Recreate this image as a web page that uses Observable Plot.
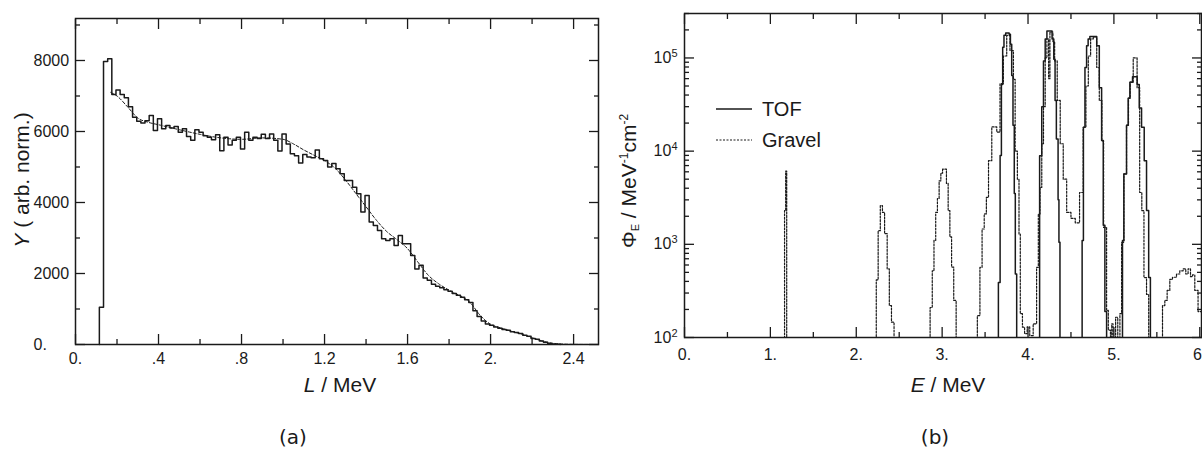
<!DOCTYPE html>
<html><head><meta charset="utf-8">
<script src="https://cdn.jsdelivr.net/npm/d3@7"></script>
<script src="https://cdn.jsdelivr.net/npm/@observablehq/plot@0.6"></script>
<style>
body{margin:0;background:#fff;}
#wrap{position:relative;width:1202px;height:457px;overflow:hidden;font-family:"Liberation Sans",Arial,sans-serif;color:#1a1a1a;background:#fff;}
.abs{position:absolute;white-space:nowrap;line-height:1;}
#chartA{position:absolute;left:0;top:0;width:600px;height:400px;}
#chartB{position:absolute;left:600px;top:0;width:602px;height:400px;}
.cap{font-family:"DejaVu Sans",sans-serif;font-size:20px;}
</style></head><body>
<div id="wrap">
  <div id="chartA"></div>
  <div id="chartB"></div>
  <div class="abs" style="left:21px;top:180px;transform:translate(-50%,-50%) rotate(-90deg);font-size:21px;"><i>Y</i> ( arb. norm.)</div>
  <div class="abs" style="left:340px;top:384px;transform:translate(-50%,-50%);font-size:21px;"><i>L</i> / MeV</div>
  <div class="abs" style="left:629px;top:181px;transform:translate(-50%,-50%) rotate(-90deg);font-size:21px;">Φ<sub style="font-size:11px;vertical-align:-3px;">E</sub> / MeV<sup style="font-size:12px;vertical-align:8px;">-1</sup>cm<sup style="font-size:12px;vertical-align:8px;">-2</sup></div>
  <div class="abs" style="left:948px;top:384px;transform:translate(-50%,-50%);font-size:21px;"><i>E</i> / MeV</div>
  <div class="abs" style="left:716px;top:99px;font-size:20px;display:flex;align-items:center;">
    <svg width="38" height="6" style="margin-right:8px;"><line x1="0" y1="3" x2="36" y2="3" stroke="#1a1a1a" stroke-width="1.5"/></svg>TOF</div>
  <div class="abs" style="left:716px;top:130px;font-size:20px;display:flex;align-items:center;">
    <svg width="38" height="6" style="margin-right:8px;"><line x1="0" y1="3" x2="36" y2="3" stroke="#1a1a1a" stroke-width="1.2" stroke-dasharray="2,1.5"/></svg>Gravel</div>
  <div class="abs cap" style="left:293px;top:437px;transform:translate(-50%,-50%);">(a)</div>
  <div class="abs cap" style="left:935px;top:437px;transform:translate(-50%,-50%);">(b)</div>
</div>
<script>
// ---------- Panel (a) data ----------
const binStartL = 0.115;
const binWidthL = 0.02;
const countsY = [1050,7970,8050,7040,7170,7040,6950,6700,6400,6290,6240,6300,6450,6030,6360,6075,6170,6100,6140,5980,
  6080,5860,5750,6050,5980,5880,5840,5770,5910,5460,5840,5620,5750,5840,5510,5980,5750,5840,5800,5920,
  5800,5930,5750,5450,5930,5650,5370,5320,5110,5350,5280,5260,5480,5230,5180,5000,5100,4950,4810,4620,
  4620,4430,4245,3730,4200,3450,3350,3210,2980,2930,2980,2790,3070,2840,2840,2510,2130,2230,1870,1810,
  1700,1640,1600,1540,1500,1440,1390,1330,1260,1180,950,790,660,580,540,490,460,420,400,360,
  340,310,260,230,170,150,100,60,25,15,8];
const fitL = [0.17,0.2,0.25,0.3,0.35,0.4,0.5,0.6,0.7,0.8,0.9,1.0,1.05,1.1,1.15,1.2,1.25,1.3,1.35,1.4,1.45,1.5,1.55,1.6,1.65,1.7,1.75,1.8,1.85,1.9,1.95,2.0,2.05,2.1,2.15,2.2,2.25,2.3,2.35,2.4,2.52];
const fitY = [7100,7000,6700,6380,6260,6190,6050,5920,5820,5780,5820,5780,5650,5480,5330,5180,4970,4640,4260,3880,3500,3180,2950,2700,2320,1950,1710,1530,1380,1190,820,570,465,375,290,190,95,35,12,4,0];
const xTicksA = [0,0.4,0.8,1.2,1.6,2.0,2.4];
const xLabelsA = ["0.",".4",".8","1.2","1.6","2.","2.4"];
const xMinorA = [0.2,0.6,1.0,1.4,1.8,2.2];
const yTicksA = [0,2000,4000,6000,8000];
const yLabelsA = ["0.","2000","4000","6000","8000"];
const yMinorA = [1000,3000,5000,7000,9000];

// ---------- Panel (b) data ----------
const tofE = [0,3.655,3.675,3.69,3.705,3.72,3.74,3.78,3.795,3.81,3.825,3.84,3.852,3.868,
  4.135,4.16,4.18,4.20,4.22,4.28,4.30,4.315,4.33,4.35,4.36,4.372,
  4.63,4.645,4.663,4.682,4.70,4.72,4.80,4.83,4.857,4.876,4.895,4.915,
  5.10,5.116,5.147,5.166,5.186,5.217,5.271,5.295,5.322,5.353,5.38,5.405,5.425,6.02];
const tofPhi = [10,390,9000,52000,130000,175000,185000,180000,140000,65000,19000,3500,480,10,
  8900,30000,93000,160000,195000,160000,97000,35000,13500,3000,1050,10,
  1100,18000,79000,135000,160000,170000,135000,48000,13000,1600,190,10,
  1100,5700,19000,37000,55000,63000,52000,29000,18000,7900,2300,440,10,10];
const gravelE = [0,1.165,1.178,1.19,
  2.233,2.255,2.28,2.305,2.33,2.36,2.385,2.41,2.44,
  2.86,2.885,2.905,2.925,2.945,2.965,2.985,3.005,3.05,3.07,3.09,3.11,3.135,3.163,
  3.41,3.44,3.465,3.49,3.515,3.54,3.578,3.636,3.674,3.713,3.752,3.79,3.83,3.85,3.876,3.895,3.91,3.935,3.96,3.99,4.02,4.06,
  4.10,4.12,4.14,4.16,4.18,4.20,4.22,4.24,4.255,4.29,4.31,4.34,4.375,4.41,4.45,4.50,4.55,
  4.60,4.643,4.674,4.702,4.729,4.76,4.80,4.83,4.86,4.88,4.915,4.935,4.96,4.975,4.99,5.02,5.045,
  5.07,5.09,5.116,5.147,5.17,5.19,5.225,5.27,5.30,5.325,5.35,5.38,5.405,
  5.566,5.593,5.62,5.651,5.682,5.729,5.767,5.806,5.837,5.864,5.892,5.915,5.942,5.98,6.02];
const gravelPhi = [10,2300,6100,10,
  415,1400,2600,2200,1300,545,220,146,10,
  210,520,1100,2200,3100,4800,5800,6400,4500,2300,1200,570,250,10,
  172,567,1460,2120,3190,7900,18200,16000,53000,105000,175000,120000,59000,10000,5000,1290,180,129,110,130,105,140,
  567,2120,4070,12000,30000,100000,160000,60000,190000,150000,93000,35000,12000,5000,2200,1900,1700,
  3600,18000,50000,105000,160000,168000,79000,35000,12900,1520,195,120,10,140,10,165,10,
  180,1050,5700,19000,37000,55000,100000,48000,3600,2300,440,290,10,
  220,250,320,420,443,480,520,545,480,545,450,470,320,190,190];
const xTicksB = [0,1,2,3,4,5,6];
const xLabelsB = ["0.","1.","2.","3.","4.","5.","6."];
const xMinorB = [0.5,1.5,2.5,3.5,4.5,5.5];
const yTicksB = [100,1000,10000,100000];
const yExpB = ["2","3","4","5"];
const yMinorB = [200,300,400,500,600,700,800,900,2000,3000,4000,5000,6000,7000,8000,9000,
  20000,30000,40000,50000,60000,70000,80000,90000,200000,300000];

const ink = "#1a1a1a";
const font = "'Liberation Sans', Arial, sans-serif";
const blank = () => "";

// histogram points for (a)
const histA = [{L: binStartL, Y: 0}];
countsY.forEach((v, i) => histA.push({L: binStartL + i * binWidthL, Y: v}));
histA.push({L: binStartL + countsY.length * binWidthL, Y: 0});
const fitA = fitL.map((l, i) => ({L: l, Y: fitY[i]}));
const labA = new Map(xTicksA.map((v, i) => [v, xLabelsA[i]]));
const labYA = new Map(yTicksA.map((v, i) => [v, yLabelsA[i]]));

const tickOpts = {tickFormat: blank, label: null, strokeWidth: 1.3};

const chartA = Plot.plot({
  width: 600, height: 400,
  marginLeft: 75, marginRight: 2, marginTop: 18, marginBottom: 56,
  style: {fontFamily: font, fontSize: "16px", color: ink, background: "transparent"},
  x: {domain: [0, 2.52]},
  y: {domain: [0, 9183]},
  marks: [
    Plot.axisX(xTicksA, {anchor: "bottom", tickSize: -10, ...tickOpts}),
    Plot.axisX(xMinorA, {anchor: "bottom", tickSize: -5, ...tickOpts}),
    Plot.axisX(xTicksA, {anchor: "top", tickSize: -10, ...tickOpts}),
    Plot.axisX(xMinorA, {anchor: "top", tickSize: -5, ...tickOpts}),
    Plot.axisY(yTicksA, {anchor: "left", tickSize: -10, ...tickOpts}),
    Plot.axisY(yMinorA, {anchor: "left", tickSize: -5, ...tickOpts}),
    Plot.axisY(yTicksA, {anchor: "right", tickSize: -10, ...tickOpts}),
    Plot.axisY(yMinorA, {anchor: "right", tickSize: -5, ...tickOpts}),
    Plot.axisX(xTicksA, {anchor: "bottom", tickSize: 0, tickPadding: 8, tickFormat: d => labA.get(d), label: null}),
    Plot.axisY(yTicksA, {anchor: "left", tickSize: 0, tickPadding: 42, textAnchor: "start", tickFormat: d => labYA.get(d), label: null}),
    Plot.frame({stroke: ink, strokeWidth: 1.5}),
    Plot.line(fitA, {x: "L", y: "Y", curve: "monotone-x", stroke: ink, strokeWidth: 1, strokeDasharray: "3,2"}),
    Plot.line(histA, {x: "L", y: "Y", curve: "step-after", stroke: ink, strokeWidth: 1.5})
  ]
});
document.getElementById("chartA").append(chartA);

// (b)
const tofPts = tofE.map((e, i) => ({E: e, P: tofPhi[i]}));
const gravPts = gravelE.map((e, i) => ({E: e, P: gravelPhi[i]}));
const labB = new Map(xTicksB.map((v, i) => [v, xLabelsB[i]]));
const labYB = new Map(yTicksB.map((v, i) => [v, "10^" + yExpB[i]]));

const chartB = Plot.plot({
  width: 602, height: 400,
  marginLeft: 84, marginRight: 1, marginTop: 13, marginBottom: 63,
  style: {fontFamily: font, fontSize: "16px", color: ink, background: "transparent"},
  x: {domain: [0, 6.02]},
  y: {type: "log", domain: [100, 300000]},
  marks: [
    Plot.axisX(xTicksB, {anchor: "bottom", tickSize: -10, ...tickOpts}),
    Plot.axisX(xMinorB, {anchor: "bottom", tickSize: -5, ...tickOpts}),
    Plot.axisX(xTicksB, {anchor: "top", tickSize: -10, ...tickOpts}),
    Plot.axisX(xMinorB, {anchor: "top", tickSize: -5, ...tickOpts}),
    Plot.axisY(yTicksB, {anchor: "left", tickSize: -10, ...tickOpts}),
    Plot.axisY(yMinorB, {anchor: "left", tickSize: -5, ...tickOpts}),
    Plot.axisY(yTicksB, {anchor: "right", tickSize: -10, ...tickOpts}),
    Plot.axisY(yMinorB, {anchor: "right", tickSize: -5, ...tickOpts}),
    Plot.axisX(xTicksB, {anchor: "bottom", tickSize: 0, tickPadding: 11, tickFormat: d => labB.get(d), label: null}),
    Plot.axisY(yTicksB, {anchor: "left", tickSize: 0, tickPadding: 7, tickFormat: d => labYB.get(d), label: null}),
    Plot.line(gravPts, {x: "E", y: "P", curve: "step-after", stroke: ink, strokeWidth: 1.2, strokeDasharray: "2,1.5", clip: true}),
    Plot.line(tofPts, {x: "E", y: "P", curve: "step-after", stroke: ink, strokeWidth: 1.5, clip: true}),
    Plot.frame({stroke: ink, strokeWidth: 1.5})
  ]
});
document.getElementById("chartB").append(chartB);

// superscript exponents on log tick labels
d3.select(chartB).selectAll("text").each(function () {
  const m = /^10\^(\d+)$/.exec(this.textContent);
  if (m) {
    const s = d3.select(this);
    s.text("10");
    s.append("tspan").attr("dy", "-0.55em").attr("font-size", "11px").text(m[1]);
  }
});
</script>
</body></html>
